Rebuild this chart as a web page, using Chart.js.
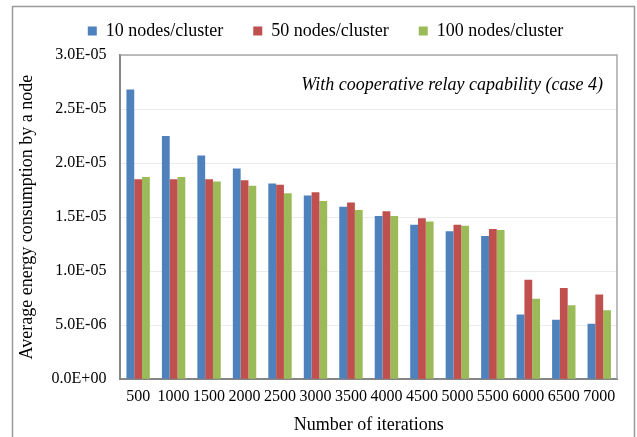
<!DOCTYPE html>
<html>
<head>
<meta charset="utf-8">
<script src="https://cdn.jsdelivr.net/npm/chart.js@4/dist/chart.umd.min.js"></script>
<style>
  body { margin: 0; background: #fff; }
  #wrap { width: 637px; height: 437px; position: relative; }
</style>
</head>
<body>
<div id="wrap"><canvas id="chart"></canvas></div>
<script>
const iterations = ['500', '1000', '1500', '2000', '2500', '3000', '3500', '4000', '4500', '5000', '5500', '6000', '6500', '7000'];

const nodes10 = [2.68e-5, 2.25e-5, 2.07e-5, 1.95e-5, 1.81e-5, 1.70e-5, 1.595e-5, 1.51e-5, 1.43e-5, 1.37e-5, 1.325e-5, 5.99e-6, 5.49e-6, 5.12e-6];
const nodes50 = [1.85e-5, 1.85e-5, 1.85e-5, 1.84e-5, 1.80e-5, 1.73e-5, 1.635e-5, 1.555e-5, 1.49e-5, 1.43e-5, 1.39e-5, 9.2e-6, 8.43e-6, 7.84e-6];
const nodes100 = [1.87e-5, 1.87e-5, 1.83e-5, 1.79e-5, 1.72e-5, 1.65e-5, 1.565e-5, 1.51e-5, 1.46e-5, 1.42e-5, 1.38e-5, 7.44e-6, 6.85e-6, 6.39e-6];

const yTickLabels = ['0.0E+00', '5.0E-06', '1.0E-05', '1.5E-05', '2.0E-05', '2.5E-05', '3.0E-05'];

const serif = '"Liberation Serif", "Times New Roman", serif';

// outer frame, top/right plot border and the case note
const extras = {
  id: 'extras',
  afterLayout(chart) {
    // nudge legend a bit right and up, like the original
    const lg = chart.legend;
    lg.left += 9; lg.right += 9;
    lg.top -= 5; lg.bottom -= 5;
  },
  beforeDraw(chart) {
    const ctx = chart.ctx;
    ctx.save();
    ctx.fillStyle = '#fff';
    ctx.fillRect(0, 0, chart.width, chart.height);
    ctx.strokeStyle = '#9a9a9a';
    ctx.lineWidth = 1.5;
    ctx.strokeRect(12.5, 6.5, 622, 460);
    ctx.restore();
  },
  afterDraw(chart) {
    const ctx = chart.ctx;
    const a = chart.chartArea;
    ctx.save();
    ctx.strokeStyle = '#a8a8a8';
    ctx.lineWidth = 1.5;
    ctx.beginPath();
    ctx.moveTo(a.left, a.top);
    ctx.lineTo(a.right, a.top);
    ctx.lineTo(a.right, a.bottom);
    ctx.stroke();
    ctx.fillStyle = '#000';
    ctx.font = 'italic 18px ' + serif;
    ctx.textAlign = 'right';
    ctx.textBaseline = 'middle';
    ctx.fillText('With cooperative relay capability (case 4)', 603, 85);
    ctx.restore();
  }
};

new Chart(document.getElementById('chart'), {
  type: 'bar',
  data: {
    labels: iterations,
    datasets: [
      { label: '10 nodes/cluster', data: nodes10, backgroundColor: '#4F81BD' },
      { label: '50 nodes/cluster', data: nodes50, backgroundColor: '#C0504D' },
      { label: '100 nodes/cluster', data: nodes100, backgroundColor: '#9BBB59' }
    ]
  },
  options: {
    responsive: true,
    maintainAspectRatio: false,
    animation: false,
    devicePixelRatio: 1,
    layout: { padding: { top: -3, right: 20, left: 16, bottom: 2 } },
    datasets: { bar: { categoryPercentage: 0.66, barPercentage: 1.0 } },
    plugins: {
      legend: {
        position: 'top',
        labels: {
          boxWidth: 9,
          boxHeight: 9,
          padding: 30,
          color: '#000',
          font: { family: serif, size: 18 }
        }
      },
      tooltip: { enabled: false }
    },
    scales: {
      x: {
        grid: { display: false, drawTicks: false },
        border: { color: '#868686', width: 2 },
        ticks: { color: '#000', padding: 10, maxRotation: 0, autoSkip: false, font: { family: serif, size: 16, lineHeight: 1.0 } },
        title: { display: true, text: 'Number of iterations', color: '#000', padding: { top: 0, bottom: 0 }, font: { family: serif, size: 18, lineHeight: 1.1 } }
      },
      y: {
        min: 0,
        max: 3e-5,
        grid: { color: '#ebebeb', lineWidth: 1, drawTicks: false },
        border: { color: '#868686', width: 2 },
        ticks: {
          stepSize: 5e-6,
          color: '#000',
          padding: 14,
          font: { family: serif, size: 16 },
          callback: (value, index) => yTickLabels[index]
        },
        title: { display: true, text: 'Average energy consumption by a node', color: '#000', padding: { top: 0, bottom: 0 }, font: { family: serif, size: 18 } }
      }
    }
  },
  plugins: [extras]
});
</script>
</body>
</html>
